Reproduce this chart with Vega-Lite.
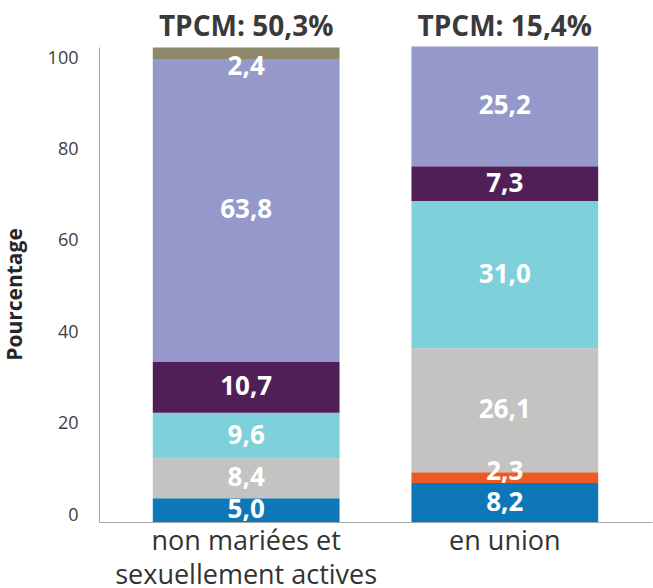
{
  "$schema": "https://vega.github.io/schema/vega-lite/v6.json",
  "width": 553,
  "height": 475,
  "autosize": "none",
  "padding": {"left": 99, "top": 47, "right": 1, "bottom": 66},
  "background": "white",
  "config": {
    "view": {"stroke": null},
    "font": "Open Sans",
    "locale": {"number": {"decimal": ",", "thousands": " ", "grouping": [3], "currency": ["", " €"]}},
    "scale": {"bandPaddingInner": 0.278, "bandPaddingOuter": 0.208}
  },
  "datasets": {
    "parts": [
      {"groupe": "non mariées et|sexuellement actives", "methode": "Implants", "ordre": 1, "valeur": 5.0},
      {"groupe": "non mariées et|sexuellement actives", "methode": "Injectables", "ordre": 3, "valeur": 8.4},
      {"groupe": "non mariées et|sexuellement actives", "methode": "Pilule", "ordre": 4, "valeur": 9.6},
      {"groupe": "non mariées et|sexuellement actives", "methode": "Autres modernes", "ordre": 5, "valeur": 10.7},
      {"groupe": "non mariées et|sexuellement actives", "methode": "Préservatif masculin", "ordre": 6, "valeur": 63.8},
      {"groupe": "non mariées et|sexuellement actives", "methode": "Méthodes traditionnelles", "ordre": 7, "valeur": 2.4},
      {"groupe": "en union", "methode": "Implants", "ordre": 1, "valeur": 8.2},
      {"groupe": "en union", "methode": "DIU", "ordre": 2, "valeur": 2.3},
      {"groupe": "en union", "methode": "Injectables", "ordre": 3, "valeur": 26.1},
      {"groupe": "en union", "methode": "Pilule", "ordre": 4, "valeur": 31.0},
      {"groupe": "en union", "methode": "Autres modernes", "ordre": 5, "valeur": 7.3},
      {"groupe": "en union", "methode": "Préservatif masculin", "ordre": 6, "valeur": 25.2}
    ],
    "tpcm": [
      {"groupe": "non mariées et|sexuellement actives", "texte": "TPCM: 50,3%"},
      {"groupe": "en union", "texte": "TPCM: 15,4%"}
    ]
  },
  "encoding": {
    "x": {
      "field": "groupe", "type": "nominal", "sort": null,
      "axis": {
        "title": null, "labelAngle": 0, "ticks": false,
        "labelExpr": "split(datum.label, '|')",
        "labelFontSize": 27, "labelColor": "#333333", "labelPadding": 6,
        "labelLineHeight": 34, "labelLimit": 400, "domainColor": "#A6A6A6"
      }
    }
  },
  "resolve": {"scale": {"y": "independent"}, "axis": {"y": "independent"}},
  "layer": [
    {
      "data": {"name": "parts"},
      "transform": [
        {"stack": "valeur", "groupby": ["groupe"], "sort": [{"field": "ordre", "order": "ascending"}], "as": ["y0", "y1"]},
        {"calculate": "(datum.y0 + datum.y1) / 2", "as": "ymid"}
      ],
      "layer": [
        {
          "mark": {"type": "bar"},
          "encoding": {
            "y": {
              "field": "y0", "type": "quantitative",
              "scale": {"domain": [0, 100], "nice": false},
              "axis": null
            },
            "y2": {"field": "y1"},
            "color": {
              "field": "methode", "type": "nominal", "legend": null,
              "scale": {
                "domain": ["Implants", "DIU", "Injectables", "Pilule", "Autres modernes", "Préservatif masculin", "Méthodes traditionnelles"],
                "range": ["#0E77B8", "#EC5B24", "#C4C3C1", "#7ED0DB", "#511F57", "#9498CB", "#8E876A"]
              }
            }
          }
        },
        {
          "transform": [{"filter": "datum.ordre != 7 && datum.ordre != 2"}],
          "mark": {"type": "text", "color": "white", "fontWeight": "bold", "fontSize": 26, "letterSpacing": 1, "baseline": "middle"},
          "encoding": {
            "y": {"field": "ymid", "type": "quantitative", "axis": null},
            "text": {"field": "valeur", "type": "quantitative", "format": ".1f"}
          }
        },
        {
          "transform": [{"filter": "datum.ordre == 7"}],
          "mark": {"type": "text", "color": "white", "fontWeight": "bold", "fontSize": 26, "letterSpacing": 1, "baseline": "middle", "dy": 14},
          "encoding": {
            "y": {"field": "ymid", "type": "quantitative", "axis": null},
            "text": {"field": "valeur", "type": "quantitative", "format": ".1f"}
          }
        },
        {
          "transform": [{"filter": "datum.ordre == 2"}],
          "mark": {"type": "text", "color": "white", "fontWeight": "bold", "fontSize": 26, "letterSpacing": 1, "baseline": "middle", "dy": -6},
          "encoding": {
            "y": {"field": "ymid", "type": "quantitative", "axis": null},
            "text": {"field": "valeur", "type": "quantitative", "format": ".1f"}
          }
        }
      ]
    },
    {
      "data": {"name": "tpcm"},
      "mark": {"type": "text", "color": "#3A3A3A", "fontWeight": "bold", "fontSize": 28, "baseline": "middle", "dy": -19},
      "encoding": {
        "y": {"datum": 100, "type": "quantitative", "scale": {"domain": [0, 100], "nice": false}, "axis": null},
        "text": {"field": "texte"}
      }
    },
    {
      "data": {"name": "tpcm"},
      "mark": {"type": "rule", "opacity": 0},
      "encoding": {
        "y": {
          "datum": 0, "type": "quantitative",
          "scale": {"domain": [-1.53, 102.41], "nice": false, "zero": false},
          "axis": {
            "orient": "left",
            "title": "Pourcentage", "values": [0, 20, 40, 60, 80, 100],
            "grid": false, "ticks": false, "domainColor": "#A6A6A6",
            "labelFontSize": 18, "labelColor": "#404040", "labelPadding": 21,
            "labelBaseline": "middle",
            "titleFontSize": 21, "titleFontWeight": "bold", "titleColor": "#262626",
            "titlePadding": 22, "titleY": 247
          }
        }
      }
    }
  ]
}
